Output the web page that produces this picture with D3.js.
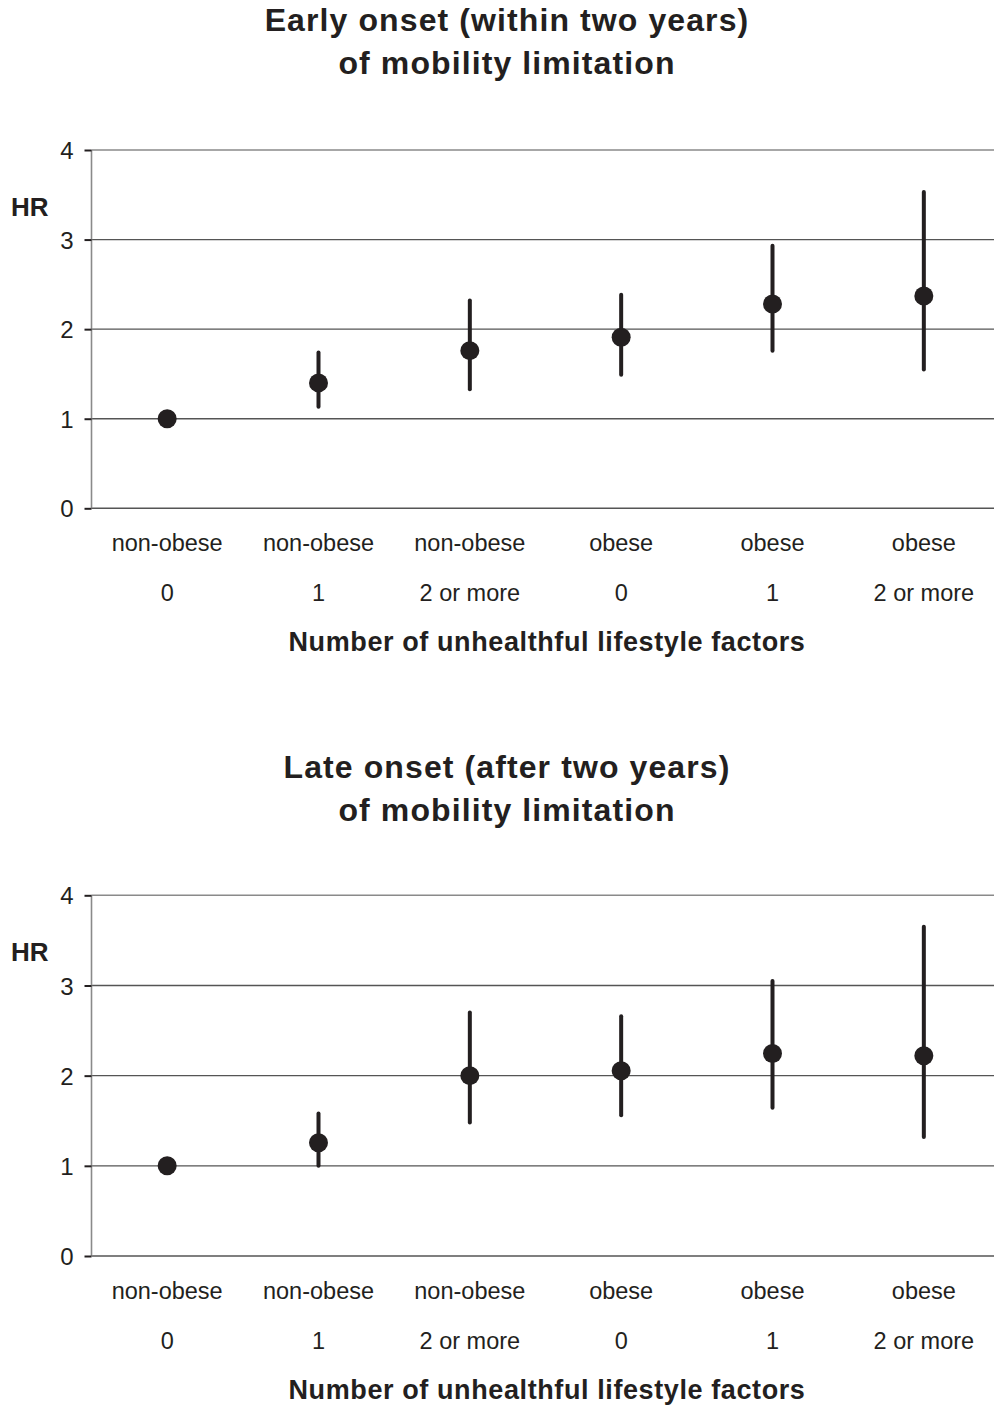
<!DOCTYPE html>
<html><head><meta charset="utf-8">
<script src="https://cdn.jsdelivr.net/npm/d3@7"></script>
<style>body{margin:0;background:#fff}svg{display:block}text{font-family:"Liberation Sans",Arial,sans-serif;fill:#231f20}</style>
</head><body>
<script>
const categories = ["non-obese|0","non-obese|1","non-obese|2 or more","obese|0","obese|1","obese|2 or more"];
const yTicks = [0,1,2,3,4];
const earlyHR = [1.00,1.40,1.76,1.91,2.28,2.37];
const earlyLow = [1.00,1.135,1.33,1.49,1.76,1.55];
const earlyHigh = [1.00,1.74,2.32,2.385,2.93,3.53];
const lateHR = [1.00,1.255,2.00,2.055,2.245,2.22];
const lateLow = [1.00,1.00,1.48,1.56,1.645,1.32];
const lateHigh = [1.00,1.58,2.70,2.66,3.05,3.65];
const titles = [["Early onset (within two years)","of mobility limitation"],["Late onset (after two years)","of mobility limitation"]];
const xTitle = "Number of unhealthful lifestyle factors";
const yTitle = "HR";

const W=994,H=1405;
const svg=d3.select("body").append("svg").attr("width",W).attr("height",H);
const ink="#231f20";

function panel(off, yTop, yBot, hr, lo, hi, title){
  const g=svg.append("g");
  const x=d3.scaleBand().domain(categories).range([91.5,999.5]).padding(0);
  const y=d3.scaleLinear().domain([0,4]).range([yBot,yTop]);
  g.selectAll("text.title").data(title).enter().append("text")
    .attr("x",507).attr("y",(d,i)=>off+31+i*43).attr("text-anchor","middle")
    .style("font-size","32px").attr("font-weight","bold").attr("letter-spacing","1.1px").text(d=>d);
  g.append("g").selectAll("line").data(yTicks).enter().append("line")
    .attr("x1",91.5).attr("x2",W).attr("y1",d=>y(d)).attr("y2",d=>y(d))
    .attr("stroke",d=>d===4?"#8a8a8a":"#555").attr("stroke-width",1.4);
  const ya=g.append("g").attr("transform","translate(91.5,0)").call(d3.axisLeft(y).tickValues(yTicks).tickSize(7).tickPadding(11).tickFormat(d3.format("d")));
  ya.select(".domain").attr("stroke","#8a8a8a").attr("stroke-width",1.6).attr("d",`M0,${yBot}V${yTop}`);
  ya.selectAll(".tick line").attr("stroke","#231f20").attr("stroke-width",2);
  ya.selectAll(".tick text").style("font-size","24px").attr("fill",ink).attr("dy","0.36em");
  g.append("text").attr("x",11).attr("y",yTop+66).style("font-size","26px").attr("font-weight","bold").text(yTitle);
  const cx=d=>x(d)+x.bandwidth()/2;
  g.selectAll("text.xl1").data(categories).enter().append("text")
    .attr("x",cx).attr("y",yBot+43).attr("text-anchor","middle").style("font-size","23.5px").text(d=>d.split("|")[0]);
  g.selectAll("text.xl2").data(categories).enter().append("text")
    .attr("x",cx).attr("y",yBot+93).attr("text-anchor","middle").style("font-size","23.5px").text(d=>d.split("|")[1]);
  g.append("text").attr("x",547).attr("y",yBot+143).attr("text-anchor","middle").style("font-size","27px").attr("font-weight","bold").attr("letter-spacing","0.6px").text(xTitle);
  g.selectAll("line.eb").data(categories).enter().append("line")
    .attr("x1",cx).attr("x2",cx).attr("y1",(d,i)=>y(lo[i])).attr("y2",(d,i)=>y(hi[i]))
    .attr("stroke",ink).attr("stroke-width",4).attr("stroke-linecap","round");
  g.selectAll("circle").data(categories).enter().append("circle")
    .attr("cx",cx).attr("cy",(d,i)=>y(hr[i])).attr("r",9.5).attr("fill",ink);
}
panel(0,150,508.3,earlyHR,earlyLow,earlyHigh,titles[0]);
panel(747,895.3,1256,lateHR,lateLow,lateHigh,titles[1]);
</script>
</body></html>
